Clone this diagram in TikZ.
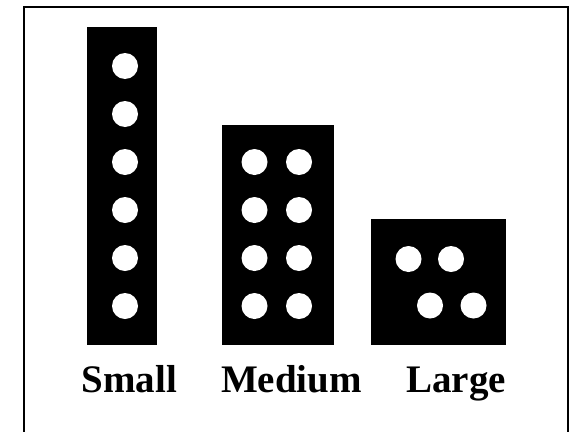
\documentclass[tikz,border=0pt]{standalone}
\usepackage{fontspec}
\setmainfont{Liberation Serif}
\begin{document}
\begin{tikzpicture}[x=1pt,y=-1pt,
  bar/.style={fill=black,draw=none,rectangle,inner sep=0pt},
  dot/.style={circle,fill=white,draw=none,inner sep=0pt,minimum size=26pt},
  lbl/.style={anchor=base,inner sep=0pt,font=\fontsize{39}{39}\selectfont\bfseries}]
\useasboundingbox (0,0) rectangle (569,431);
\begin{scope}
\clip (0,0) rectangle (569,431);
\draw[line width=2pt] (24.3,440) -- (24.3,7) -- (567.7,7) -- (567.7,440);
\end{scope}
% bars
\node[bar,minimum width=70pt,minimum height=318pt] (small) at (122,186) {};
\node[bar,minimum width=112pt,minimum height=220pt] (medium) at (278,235) {};
\node[bar,minimum width=135pt,minimum height=126pt] (large) at (438.5,282) {};
% small dots
\foreach \i/\y in {1/66,2/114,3/162,4/210,5/258,6/306}
  \node[dot] (s\i) at (125,\y) {};
% medium dots
\foreach \i/\y in {1/162,2/210,3/258,4/306}{
  \node[dot] (ma\i) at (254.5,\y) {};
  \node[dot] (mb\i) at (299,\y) {};
}
% large dots
\node[dot] (l1) at (408.5,259) {};
\node[dot] (l2) at (451,259) {};
\node[dot] (l3) at (430,305.5) {};
\node[dot] (l4) at (473.5,305.5) {};
% labels
\node[lbl] (ts) at (129.5,392.4) {Small};
\node[lbl] (tm) at (291.5,392.4) {Medium};
\node[lbl] (tl) at (456,392.4) {Large};
\end{tikzpicture}
\end{document}
